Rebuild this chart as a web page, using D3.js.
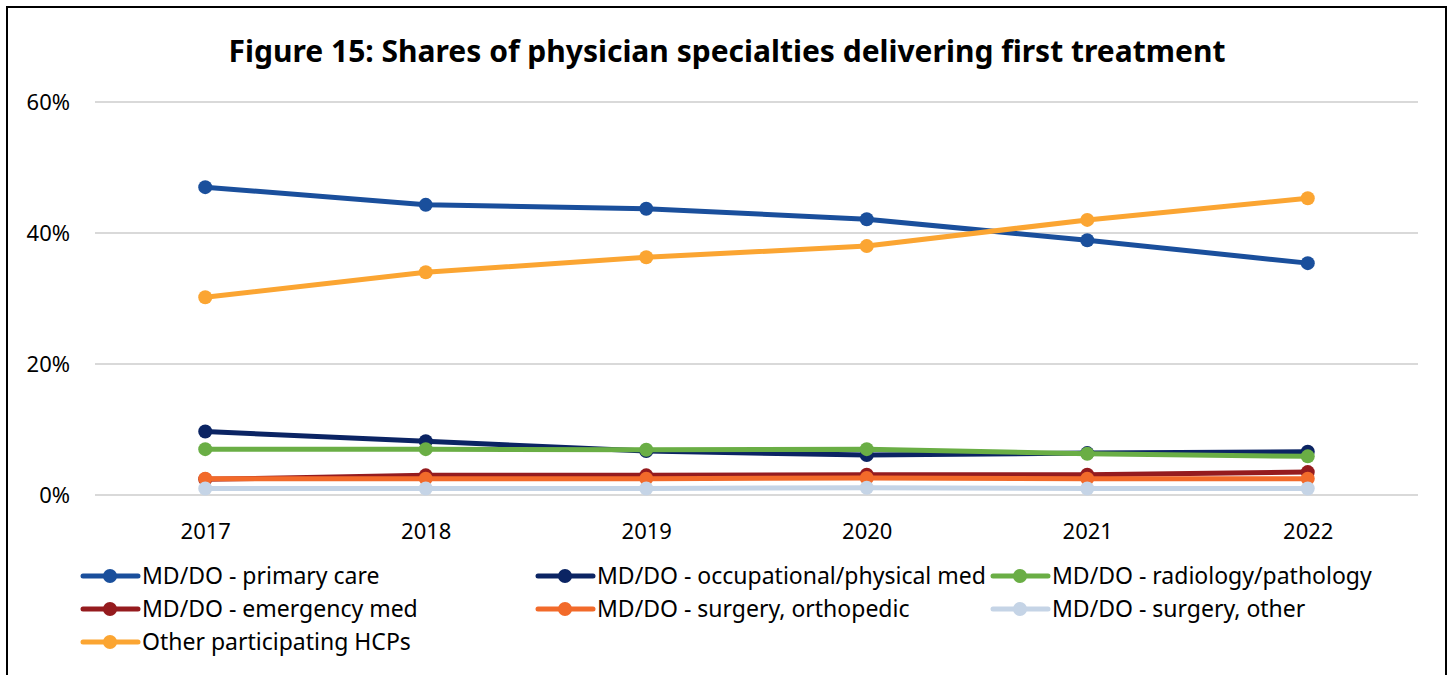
<!doctype html>
<html>
<head>
<meta charset="utf-8">
<script src="https://d3js.org/d3.v7.min.js"></script>
<style>
body { margin:0; background:#fff; font-family:'Noto Sans', 'Open Sans', sans-serif; }
</style>
</head>
<body>
<div id="chart"></div>
<script>
// data
var years = ["2017","2018","2019","2020","2021","2022"];
var yTicks = [0, 20, 40, 60];
var seriesNames = [
  "MD/DO - primary care",
  "MD/DO - occupational/physical med",
  "MD/DO - radiology/pathology",
  "MD/DO - emergency med",
  "MD/DO - surgery, orthopedic",
  "MD/DO - surgery, other",
  "Other participating HCPs"
];
var seriesColors = ["#1a4f9c", "#0b2463", "#6aae45", "#951b1e", "#f26a2a", "#c5d4e6", "#fba532"];
var primaryCare   = [47.0, 44.3, 43.7, 42.1, 38.9, 35.4];
var occupational  = [9.7, 8.2, 6.7, 6.1, 6.4, 6.6];
var radiology     = [7.0, 7.0, 6.9, 7.0, 6.3, 5.9];
var emergency     = [2.4, 3.0, 3.0, 3.1, 3.1, 3.5];
var orthopedic    = [2.5, 2.5, 2.5, 2.6, 2.5, 2.5];
var surgeryOther  = [1.0, 1.0, 1.0, 1.1, 1.0, 1.0];
var otherHCPs     = [30.2, 34.0, 36.3, 38.0, 42.0, 45.3];
var allValues = [primaryCare, occupational, radiology, emergency, orthopedic, surgeryOther, otherHCPs];

var width = 1450, height = 675;
var svg = d3.select("#chart").append("svg")
  .attr("width", width).attr("height", height);

// frame
svg.append("rect")
  .attr("x", 7).attr("y", 7)
  .attr("width", 1439).attr("height", 700)
  .attr("fill", "none").attr("stroke", "#000").attr("stroke-width", 2);

svg.append("text")
  .attr("x", 727).attr("y", 62)
  .attr("text-anchor", "middle")
  .attr("font-size", 30).attr("font-weight", "bold")
  .text("Figure 15: Shares of physician specialties delivering first treatment");

var plotLeft = 95, plotRight = 1418, plotTop = 102, plotBottom = 495;

var x = d3.scalePoint().domain(years).range([plotLeft, plotRight]).padding(0.5);
var y = d3.scaleLinear().domain([0, 60]).range([plotBottom, plotTop]);

// gridlines
svg.append("g").selectAll("line")
  .data(yTicks).enter().append("line")
  .attr("x1", plotLeft).attr("x2", plotRight)
  .attr("y1", function(d){ return y(d); })
  .attr("y2", function(d){ return y(d); })
  .attr("stroke", "#d9d9d9").attr("stroke-width", 2);

var yAxis = svg.append("g")
  .attr("transform", "translate(70,0)")
  .call(d3.axisLeft(y).tickValues(yTicks).tickSize(0).tickFormat(function(d){ return d + "%"; }));
yAxis.select(".domain").remove();
yAxis.selectAll("text").attr("font-size", 22).attr("fill", "#000")
  .attr("font-family", "'Noto Sans', sans-serif").attr("x", 0);

var xAxis = svg.append("g")
  .attr("transform", "translate(0," + (plotBottom + 25) + ")")
  .call(d3.axisBottom(x).tickSize(0));
xAxis.select(".domain").remove();
xAxis.selectAll("text").attr("font-size", 22).attr("fill", "#000")
  .attr("font-family", "'Noto Sans', sans-serif");

var line = d3.line()
  .x(function(d, i){ return x(years[i]); })
  .y(function(d){ return y(d); });

allValues.forEach(function(vals, k){
  var g = svg.append("g");
  g.append("path")
    .attr("d", line(vals))
    .attr("fill", "none")
    .attr("stroke", seriesColors[k])
    .attr("stroke-width", 5)
    .attr("stroke-linejoin", "round");
  g.selectAll("circle")
    .data(vals).enter().append("circle")
    .attr("cx", function(d, i){ return x(years[i]); })
    .attr("cy", function(d){ return y(d); })
    .attr("r", 7)
    .attr("fill", seriesColors[k]);
});

// legend
var legend = svg.append("g");
seriesNames.forEach(function(name, k){
  var col = k % 3, row = Math.floor(k / 3);
  var lx = 83 + col * 455, ly = 576 + row * 33;
  var item = legend.append("g").attr("transform", "translate(" + lx + "," + ly + ")");
  item.append("line")
    .attr("x1", 0).attr("x2", 55).attr("y1", 0).attr("y2", 0)
    .attr("stroke", seriesColors[k]).attr("stroke-width", 5).attr("stroke-linecap", "round");
  item.append("circle").attr("cx", 27).attr("cy", 0).attr("r", 7).attr("fill", seriesColors[k]);
  item.append("text")
    .attr("x", 59).attr("y", 0).attr("dy", "0.35em")
    .attr("font-size", 23).attr("fill", "#000")
    .text(name);
});
</script>
</body>
</html>
